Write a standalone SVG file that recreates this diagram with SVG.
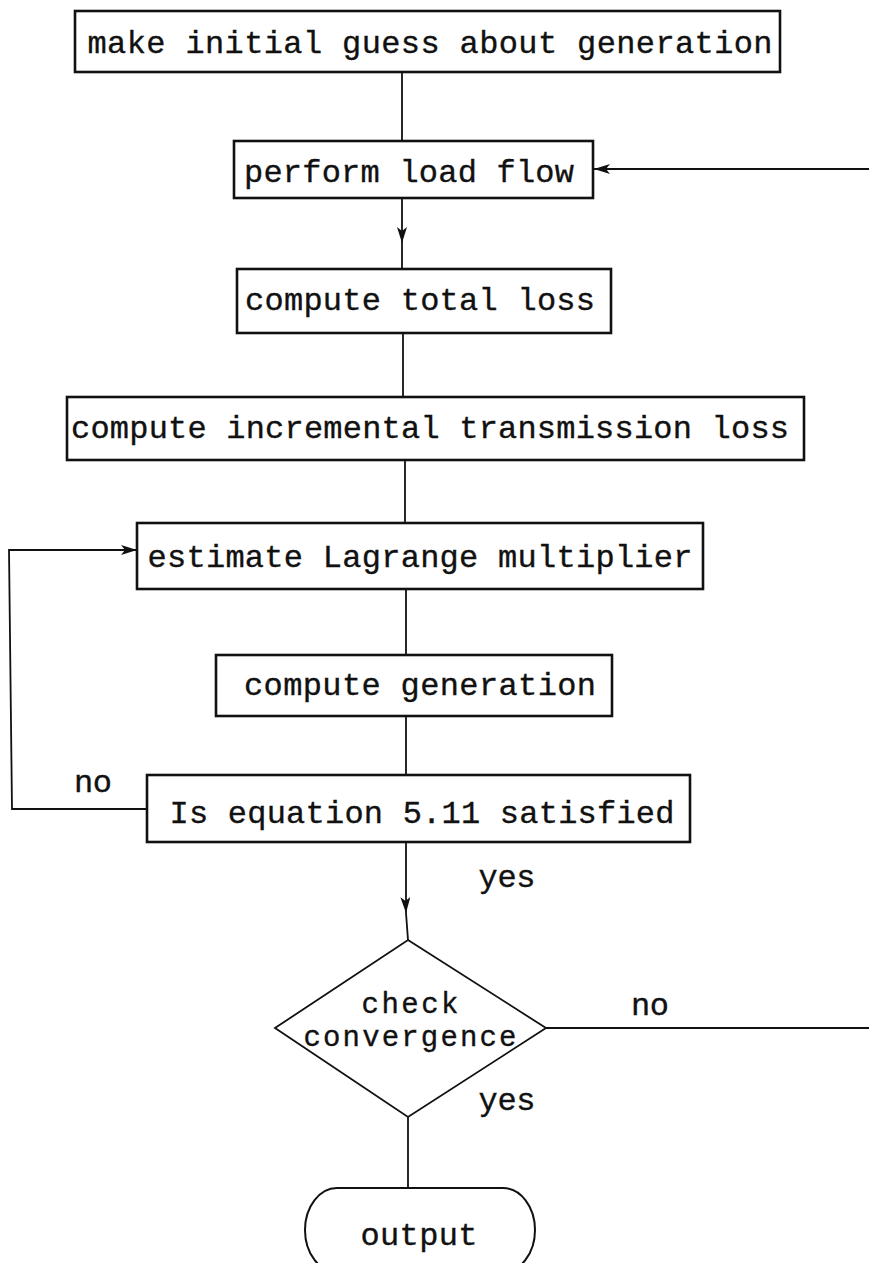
<svg xmlns="http://www.w3.org/2000/svg" width="869" height="1263" viewBox="0 0 869 1263">
<style>
.box{fill:#fff;stroke:#111;stroke-width:2.6}
.ln{fill:none;stroke:#111;stroke-width:1.8}
.t{font-family:"Liberation Mono","Courier New",monospace;font-size:32px;fill:#111;stroke:#111;stroke-width:0.35;text-anchor:middle}
.d{font-size:29px}
</style>
<defs>
<marker id="ah" viewBox="0 0 16 10" refX="16" refY="5" markerWidth="16" markerHeight="10" markerUnits="userSpaceOnUse" orient="auto">
<path d="M0,0 L16,5 L0,10 L4,5 Z" fill="#111"/>
</marker>
</defs>
<rect width="869" height="1263" fill="#fff"/>
<g id="connectors">
<path class="ln" d="M402,72 V141"/>
<path class="ln" d="M402,198 V243 V269" marker-mid="url(#ah)"/>
<path class="ln" d="M403,333 V397"/>
<path class="ln" d="M405,460 V523"/>
<path class="ln" d="M406,589 V655"/>
<path class="ln" d="M406,716 V775"/>
<path class="ln" d="M406,842 V913 L408,940" marker-mid="url(#ah)"/>
<path class="ln" d="M147,809 H12 L9,550 H137" marker-end="url(#ah)"/>
<path class="ln" style="stroke-width:2.2" d="M869,169 H594" marker-end="url(#ah)"/>
<path class="ln" style="stroke-width:2.2" d="M546,1028 H869"/>
<path class="ln" d="M408,1117 V1188"/>
</g>
<g id="n1"><rect class="box" x="75" y="11" width="705" height="61"/><text class="t" x="430" y="53" textLength="685" lengthAdjust="spacing">make initial guess about generation</text></g>
<g id="n2"><rect class="box" x="234" y="141" width="359" height="57"/><text class="t" x="409" y="182" textLength="330" lengthAdjust="spacing">perform load flow</text></g>
<g id="n3"><rect class="box" x="237" y="269" width="374" height="64"/><text class="t" x="420" y="310" textLength="350" lengthAdjust="spacing">compute total loss</text></g>
<g id="n4"><rect class="box" x="67" y="397" width="737" height="63"/><text class="t" x="430" y="438" textLength="718" lengthAdjust="spacing">compute incremental transmission loss</text></g>
<g id="n5"><rect class="box" x="137" y="523" width="566" height="66"/><text class="t" x="420" y="567" textLength="545" lengthAdjust="spacing">estimate Lagrange multiplier</text></g>
<g id="n6"><rect class="box" x="216" y="655" width="396" height="61"/><text class="t" x="420" y="695" textLength="352" lengthAdjust="spacing">compute generation</text></g>
<g id="n7"><rect class="box" x="147" y="775" width="543" height="67"/><text class="t" x="422" y="823" textLength="505" lengthAdjust="spacing">Is equation 5.11 satisfied</text></g>
<g id="n8"><path class="box" style="stroke-width:1.8" d="M408,940 L546,1028 L408,1117 L275,1028 Z"/><text class="t d" x="410" y="1013" textLength="97" lengthAdjust="spacing">check</text><text class="t d" x="410" y="1046" textLength="213" lengthAdjust="spacing">convergence</text></g>
<g id="n9"><path class="box" style="stroke-width:2" d="M337,1188 H503 A32,42 0 0 1 535,1230 A32,42 0 0 1 503,1272 H337 A32,42 0 0 1 305,1230 A32,42 0 0 1 337,1188 Z"/><text class="t" x="419" y="1245" textLength="117" lengthAdjust="spacing">output</text></g>
<g id="labels">
<text class="t" x="93" y="792" textLength="38" lengthAdjust="spacing">no</text>
<text class="t" x="507" y="887" textLength="57" lengthAdjust="spacing">yes</text>
<text class="t" x="650" y="1015" textLength="38" lengthAdjust="spacing">no</text>
<text class="t" x="507" y="1110" textLength="57" lengthAdjust="spacing">yes</text>
</g>
</svg>
